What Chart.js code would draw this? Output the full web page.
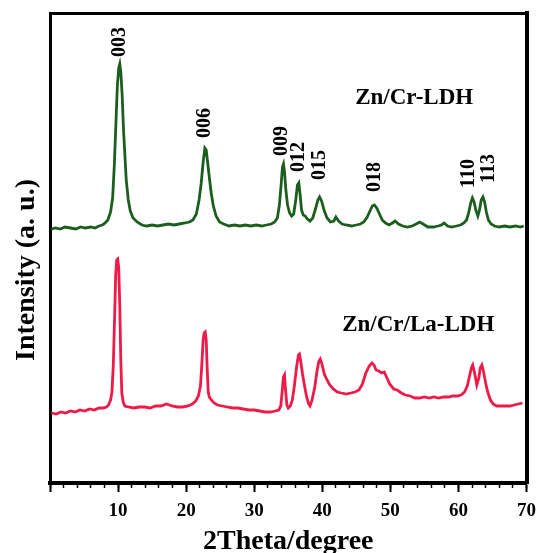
<!DOCTYPE html>
<html lang="en">

<head>
    <meta charset="UTF-8">
    <title>XRD Zn/Cr-LDH</title>
    <style>
        body { margin: 0; background: #fff; }
    </style>
</head>

<body>
    <canvas id="xrdChart" width="544" height="553"></canvas>

    <script src="https://cdn.jsdelivr.net/npm/chart.js@4.4.0/dist/chart.umd.min.js"></script>
    <script>
        // 2Theta positions and intensities (a. u.)
        const greenTheta = [0.2, 0.8, 1.5, 2.2, 3.0, 3.8, 4.5, 5.2, 6.0, 6.6, 7.2, 7.7, 8.1, 8.5, 8.9, 9.2, 9.45, 9.7, 9.9, 10.1,
            10.25, 10.4, 10.6, 10.8, 11.0, 11.2, 11.5, 11.8, 12.2, 12.8, 13.5, 14.2, 15.0, 15.8, 16.6, 17.4, 18.2, 19.0, 19.8, 20.5,
            21.0, 21.5, 21.9, 22.2, 22.5, 22.75, 22.95, 23.2, 23.45, 23.7, 24.0, 24.4, 24.9, 25.5, 26.3, 27.1, 27.9, 28.7, 29.5, 30.3,
            31.1, 31.8, 32.5, 33.0, 33.4, 33.7, 33.95, 34.15, 34.3, 34.45, 34.65, 34.9, 35.2, 35.5, 35.8, 36.1, 36.35, 36.55, 36.75, 36.95,
            37.2, 37.5, 37.8, 38.2, 38.6, 39.0, 39.35, 39.6, 39.9, 40.3, 40.7, 41.2, 41.7, 42.0, 42.4, 42.9, 43.5, 44.3, 45.0, 45.6,
            46.1, 46.6, 47.0, 47.35, 47.65, 48.0, 48.4, 48.8, 49.3, 49.8, 50.3, 50.7, 51.2, 51.8, 52.5, 53.2, 53.8, 54.3, 54.8, 55.5,
            56.3, 57.0, 57.5, 57.9, 58.4, 59.0, 59.7, 60.3, 60.8, 61.2, 61.5, 61.8, 62.05, 62.3, 62.55, 62.85, 63.1, 63.35, 63.6, 63.85,
            64.1, 64.4, 64.8, 65.3, 66.0, 66.8, 67.6, 68.4, 69.1, 69.6];
        const greenIntensity = [254, 255, 254, 256, 255, 254, 256, 255, 256, 255, 257, 258, 260, 263, 271, 285, 318, 363, 398, 415,
            419, 411, 388, 353, 328, 303, 283, 272, 265, 261, 258, 257, 258, 257, 258, 259, 258, 259, 260, 261,
            263, 269, 283, 299, 321, 335, 333, 318, 303, 289, 277, 267, 261, 259, 257, 258, 257, 258, 257, 258,
            257, 258, 259, 261, 265, 278, 298, 316, 319, 311, 293, 278, 270, 267, 269, 283, 298, 300, 288, 273,
            268, 267, 264, 262, 265, 274, 283, 286, 282, 272, 265, 261, 262, 266, 262, 259, 258, 257, 258, 259,
            261, 266, 272, 277, 278, 275, 269, 263, 260, 258, 260, 262, 259, 257, 256, 257, 259, 261, 259, 256,
            256, 257, 258, 260, 257, 256, 257, 258, 260, 263, 270, 280, 285, 281, 273, 267, 273, 283, 286, 281,
            271, 263, 259, 257, 256, 257, 256, 257, 256, 257];

        const redTheta = [0.2, 0.9, 1.6, 2.3, 3.0, 3.7, 4.4, 5.1, 5.8, 6.5, 7.2, 7.8, 8.3, 8.6, 8.9, 9.1, 9.3, 9.5, 9.65, 9.8,
            9.95, 10.1, 10.25, 10.4, 10.55, 10.75, 11.0, 11.5, 12.3, 13.1, 13.9, 14.7, 15.5, 16.3, 17.1, 17.9, 18.7, 19.5, 20.3, 20.9,
            21.4, 21.8, 22.1, 22.3, 22.5, 22.65, 22.8, 22.95, 23.1, 23.25, 23.4, 23.7, 24.1, 24.6, 25.3, 26.0, 26.8, 27.6, 28.4, 29.2,
            30.0, 30.8, 31.6, 32.4, 33.1, 33.6, 33.9, 34.1, 34.3, 34.45, 34.6, 34.8, 35.0, 35.3, 35.6, 35.9, 36.2, 36.5, 36.65, 36.85,
            37.1, 37.4, 37.7, 38.0, 38.2, 38.5, 38.9, 39.2, 39.5, 39.7, 39.9, 40.3, 40.7, 41.1, 41.6, 42.2, 42.8, 43.5, 44.2, 44.8,
            45.4, 45.9, 46.4, 46.9, 47.3, 47.6, 47.9, 48.3, 48.7, 49.1, 49.5, 49.9, 50.5, 51.0, 51.6, 52.2, 52.9, 53.6, 54.3, 55.0,
            55.7, 56.4, 57.1, 57.8, 58.5, 59.2, 59.8, 60.4, 60.9, 61.3, 61.6, 61.9, 62.1, 62.35, 62.7, 63.0, 63.2, 63.45, 63.7, 64.0,
            64.3, 64.7, 65.1, 65.6, 66.2, 66.9, 67.6, 68.2, 68.8, 69.4];
        const redIntensity = [70, 69, 71, 70, 72, 71, 73, 72, 74, 73, 75, 75, 76, 78, 83, 91, 118, 168, 208, 223,
            224, 215, 178, 123, 90, 81, 77, 76, 75, 76, 76, 75, 77, 77, 79, 77, 76, 76, 77, 79,
            82, 87, 97, 118, 143, 150, 151, 143, 113, 91, 86, 83, 80, 78, 77, 76, 75, 75, 74, 73,
            73, 72, 71, 71, 72, 73, 77, 91, 106, 108, 93, 78, 75, 77, 83, 97, 115, 128, 129, 121,
            109, 97, 86, 79, 77, 83, 96, 111, 122, 124, 120, 109, 103, 98, 94, 91, 90, 89, 90, 91,
            93, 99, 110, 117, 120, 118, 113, 112, 110, 111, 105, 99, 94, 93, 90, 88, 87, 85, 85, 86,
            85, 86, 85, 86, 86, 87, 87, 88, 91, 97, 106, 115, 118, 111, 98, 105, 115, 118, 111, 100,
            91, 83, 79, 77, 77, 77, 77, 78, 79, 80];

        // reflection labels and where they sit (2Theta, a. u.)
        const peakNames = ['003', '006', '009', '012', '015', '018', '110', '113'];
        const peakLabelTheta = [10.2, 22.7, 34.0, 36.6, 39.7, 47.7, 61.5, 64.5];
        const peakLabelLevel = [426, 345, 327, 311, 303, 291, 295, 300];

        const sampleNames = ['Zn/Cr-LDH', 'Zn/Cr/La-LDH'];
        const sampleLabelTheta = [53.5, 54.1];
        const sampleLabelLevel = [385, 158];

        const serif = '"Liberation Serif", "Times New Roman", serif';

        const textPlugin = {
            id: 'xrdText',
            afterDatasetsDraw(chart) {
                const { ctx, chartArea } = chart;
                const x = chart.scales.x;
                const y = chart.scales.y;
                ctx.save();
                ctx.fillStyle = '#000';

                // hkl labels, rotated
                ctx.font = 'bold 20px ' + serif;
                ctx.textAlign = 'left';
                ctx.textBaseline = 'middle';
                peakNames.forEach((name, i) => {
                    ctx.save();
                    ctx.translate(x.getPixelForValue(peakLabelTheta[i]), y.getPixelForValue(peakLabelLevel[i]));
                    ctx.rotate(-Math.PI / 2);
                    ctx.fillText(name, 0, 0);
                    ctx.restore();
                });

                // sample names
                ctx.font = 'bold 23px ' + serif;
                ctx.textAlign = 'center';
                sampleNames.forEach((name, i) => {
                    ctx.fillText(name, x.getPixelForValue(sampleLabelTheta[i]), y.getPixelForValue(sampleLabelLevel[i]));
                });

                // y axis title
                ctx.font = 'bold 28px ' + serif;
                ctx.textBaseline = 'alphabetic';
                ctx.translate(chartArea.left - 16, (chartArea.top + chartArea.bottom) / 2 + 22);
                ctx.rotate(-Math.PI / 2);
                ctx.fillText('Intensity (a. u.)', 0, 0);
                ctx.restore();
            }
        };

        const toPoints = (xs, ys) => xs.map((v, i) => ({ x: v, y: ys[i] }));

        const ctx = document.getElementById('xrdChart').getContext('2d');
        const chart = new Chart(ctx, {
            type: 'line',
            data: {
                datasets: [{
                    label: sampleNames[0],
                    data: toPoints(greenTheta, greenIntensity),
                    borderColor: '#1c5e1e',
                    borderWidth: 2.8,
                    pointRadius: 0,
                    tension: 0
                }, {
                    label: sampleNames[1],
                    data: toPoints(redTheta, redIntensity),
                    borderColor: '#ee1a48',
                    borderWidth: 2.8,
                    pointRadius: 0,
                    tension: 0
                }]
            },
            options: {
                responsive: false,
                animation: false,
                devicePixelRatio: 1,
                layout: { padding: 0 },
                plugins: {
                    legend: { display: false },
                    tooltip: { enabled: false }
                },
                scales: {
                    x: {
                        type: 'linear',
                        position: 'bottom',
                        weight: 1,
                        min: 0,
                        max: 70,
                        ticks: {
                            stepSize: 10,
                            autoSkip: false,
                            maxRotation: 0,
                            padding: 8,
                            color: '#000',
                            font: { family: serif, size: 19, weight: 'bold' },
                            callback: v => (v === 0 ? '' : v)
                        },
                        grid: { drawOnChartArea: false, tickLength: 9, tickWidth: 2, tickColor: '#000' },
                        border: { width: 4, color: '#000' },
                        title: {
                            display: true,
                            text: '2Theta/degree',
                            color: '#000',
                            padding: 0,
                            font: { family: serif, size: 28, weight: 'bold', lineHeight: 0.8 }
                        },
                        afterFit: s => { s.height = 70; }
                    },
                    xMinor: {
                        type: 'linear',
                        position: 'bottom',
                        weight: 0,
                        min: 0,
                        max: 70,
                        ticks: { display: false, stepSize: 2 },
                        grid: { drawOnChartArea: false, tickLength: 5, tickWidth: 1.5, tickColor: '#000' },
                        border: { display: false },
                        afterFit: s => { s.height = 0; }
                    },
                    xTop: {
                        type: 'linear',
                        position: 'top',
                        min: 0,
                        max: 70,
                        ticks: { display: false },
                        grid: { drawOnChartArea: false, drawTicks: false },
                        border: { width: 3, color: '#000' },
                        afterFit: s => { s.height = 13; }
                    },
                    y: {
                        type: 'linear',
                        position: 'left',
                        min: 0,
                        max: 470,
                        ticks: { display: false },
                        grid: { drawOnChartArea: false, drawTicks: false },
                        border: { width: 3, color: '#000' },
                        afterFit: s => { s.width = 50; }
                    },
                    yRight: {
                        type: 'linear',
                        position: 'right',
                        min: 0,
                        max: 470,
                        ticks: { display: false },
                        grid: { drawOnChartArea: false, drawTicks: false },
                        border: { width: 4, color: '#000' },
                        afterFit: s => { s.width = 14; }
                    }
                }
            },
            plugins: [textPlugin]
        });
    </script>
</body>

</html>
